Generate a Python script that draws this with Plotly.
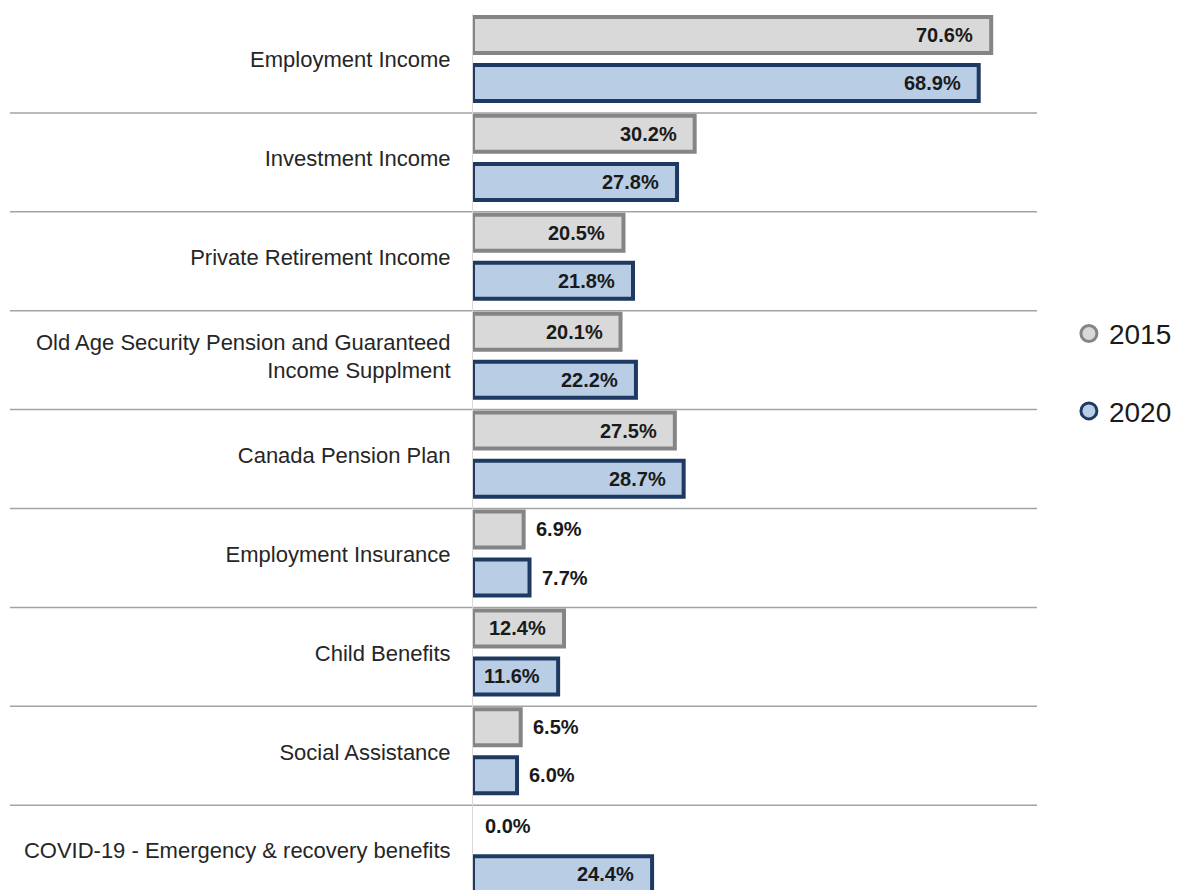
import plotly.graph_objects as go

# Income sources (top to bottom) and share of recipients in each year
categories = [
    "Employment Income",
    "Investment Income",
    "Private Retirement Income",
    "Old Age Security Pension and Guaranteed<br>Income Supplment",
    "Canada Pension Plan",
    "Employment Insurance",
    "Child Benefits",
    "Social Assistance",
    "COVID-19 - Emergency & recovery benefits",
]
share_2015 = [70.6, 30.2, 20.5, 20.1, 27.5, 6.9, 12.4, 6.5, 0.0]
share_2020 = [68.9, 27.8, 21.8, 22.2, 28.7, 7.7, 11.6, 6.0, 24.4]
years = ["2015", "2020"]

FILL = {"2015": "#d9d9d9", "2020": "#b9cde5"}
EDGE = {"2015": "#858585", "2020": "#1e3a62"}
OFFSET = {"2015": -0.288, "2020": 0.198}
FONT = "Liberation Sans, Arial, sans-serif"

rows = list(range(len(categories)))
fig = go.Figure()

for year, values in zip(years, [share_2015, share_2020]):
    ys = [r + OFFSET[year] for r in rows]
    fig.add_trace(go.Bar(
        x=values, y=ys, orientation="h", width=0.364,
        marker=dict(color=FILL[year],
                    line=dict(color=EDGE[year],
                              width=[4 if v > 0 else 0 for v in values])),
        showlegend=False, hoverinfo="skip",
    ))
    # legend entry drawn as a circle
    fig.add_trace(go.Scatter(
        x=[None], y=[None], mode="markers", name=year, legendgroup=year,
        marker=dict(symbol="circle", size=18, color=FILL[year],
                    line=dict(color=EDGE[year], width=3)),
    ))
    # value labels: inside the bar end for long bars, just outside for short ones
    for v, y in zip(values, ys):
        inside = v >= 10
        fig.add_annotation(
            x=v, y=y, xref="x", yref="y", text=f"<b>{v:.1f}%</b>",
            showarrow=False, xanchor="right" if inside else "left",
            xshift=-16 if inside else 10, yanchor="middle",
            font=dict(family=FONT, size=20, color="#1a1a1a"),
        )

# separators between income sources
for r in rows[:-1]:
    fig.add_shape(type="line", xref="paper", yref="y",
                  x0=-0.8166, x1=0.9947, y0=r + 0.5, y1=r + 0.5,
                  line=dict(color="#a3a3a3", width=1.5), layer="below")

fig.update_layout(
    width=1178, height=890,
    margin=dict(l=473, r=138, t=14, b=0),
    paper_bgcolor="white", plot_bgcolor="white",
    barmode="overlay",
    font=dict(family=FONT, color="#262626"),
    xaxis=dict(range=[0, 77.25], showgrid=False, zeroline=False,
               showticklabels=False, ticks=""),
    yaxis=dict(range=[8.357, -0.5], tickmode="array",
               tickvals=[r - 0.04 for r in rows], ticktext=categories,
               showgrid=False, zeroline=False,
               showline=True, linecolor="#d9d9d9", linewidth=1,
               ticks="outside", ticklen=17, tickcolor="rgba(0,0,0,0)",
               tickfont=dict(family=FONT, size=22, color="#262626"),
               layer="below traces"),
    legend=dict(x=1.051, y=0.591, xanchor="left", yanchor="middle",
                traceorder="grouped", tracegroupgap=38,
                font=dict(family=FONT, size=28, color="#1a1a1a"),
                bgcolor="rgba(0,0,0,0)", itemsizing="trace"),
)

fig.write_html("out.html")
